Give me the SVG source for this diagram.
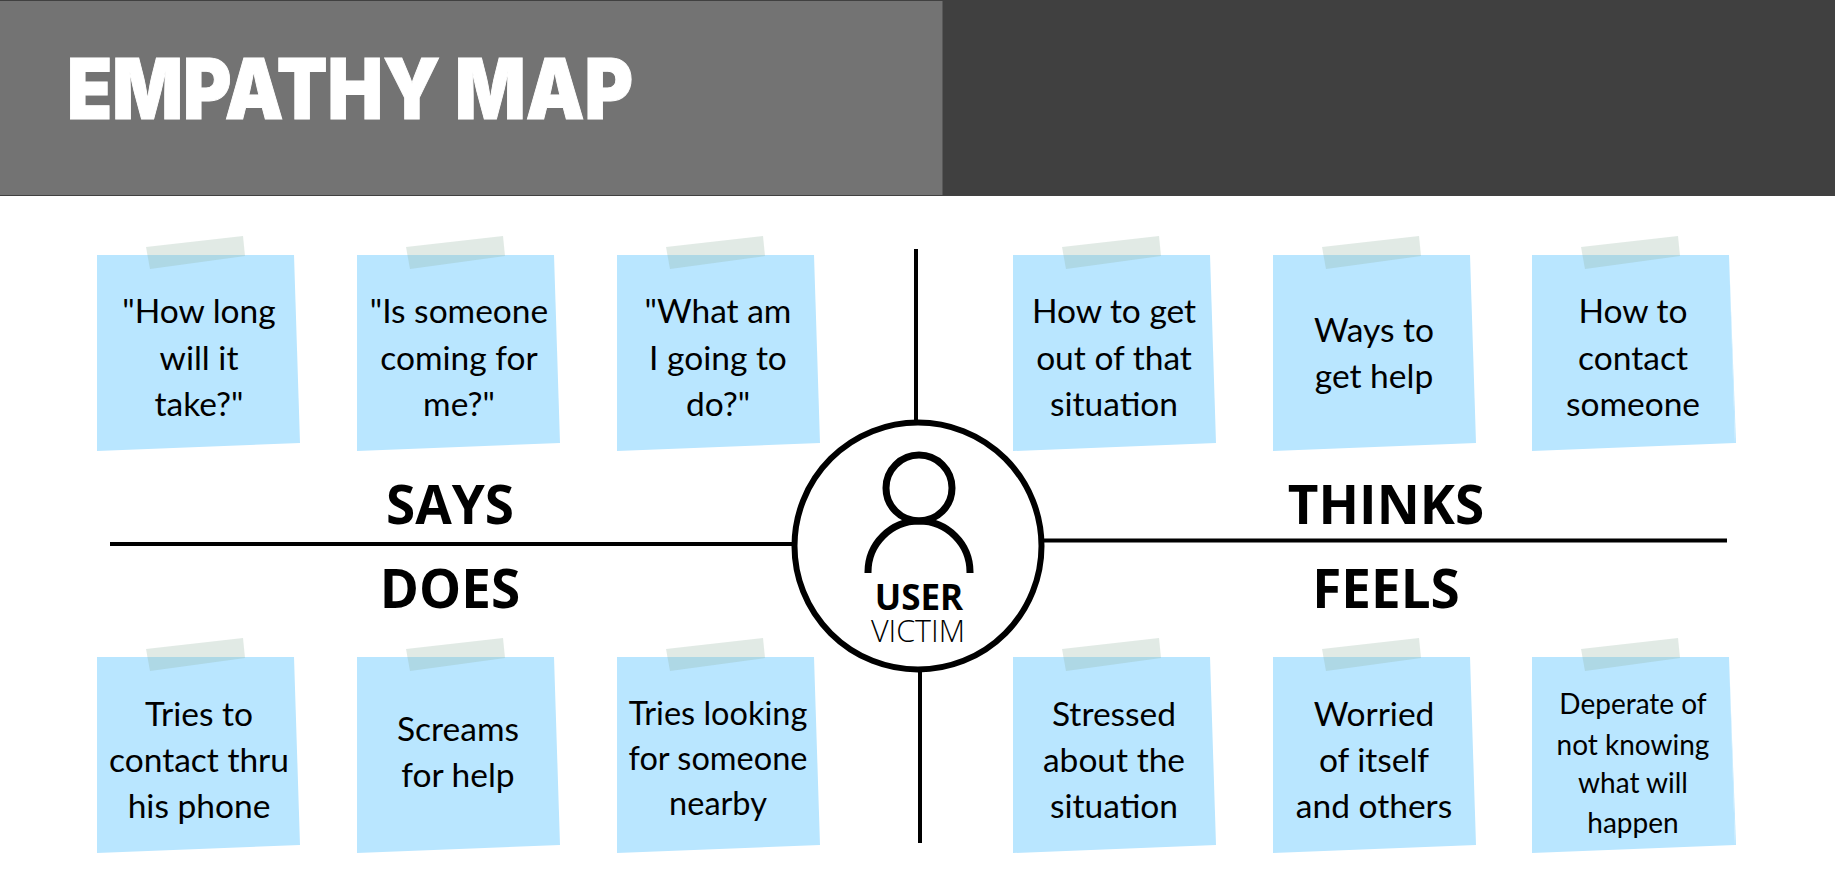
<svg xmlns="http://www.w3.org/2000/svg" width="1835" height="875" viewBox="0 0 1835 875">
<style>
.n{font-family:Lato,"Open Sans",sans-serif;font-size:33.500px;fill:#000;text-anchor:middle}
.m{font-size:32.500px}
.s{font-size:28px}
.h{font-family:"Open Sans",sans-serif;font-weight:700;font-size:53px;fill:#000;text-anchor:middle}
.l{stroke:#000;stroke-width:4;fill:none}
</style>
<defs>
<g id="note">
<path d="M0 0H197L203 188L0 196Z" fill="#b9e6ff"/>
<path d="M49 -8L146 -19L148 1L53 14Z" fill="#8fb0a0" fill-opacity=".27"/>
</g>
</defs>
<rect width="1835" height="196" fill="#404040"/>
<rect x="0" y="1" width="942.500" height="194" fill="#737373"/>
<text id="title" x="67" y="119" textLength="566" lengthAdjust="spacingAndGlyphs" font-family="Inter,sans-serif" font-weight="900" font-size="84" fill="#fff" stroke="#fff" stroke-width="1">EMPATHY MAP</text>
<g id="connectors">
<line class="l" x1="916" y1="249" x2="916" y2="422"/>
<line class="l" x1="110" y1="544" x2="795" y2="544"/>
<line class="l" x1="1043" y1="540.500" x2="1727" y2="540.500"/>
<line class="l" x1="920" y1="670" x2="920" y2="843"/>
</g>
<g id="says-notes">
<g id="n1" transform="translate(97 255)"><use href="#note"/><text class="n" x="102" y="68">"How long</text><text class="n" x="102" y="115">will it</text><text class="n" x="102" y="161">take?"</text></g>
<g id="n2" transform="translate(357 255)"><use href="#note"/><text class="n" x="102" y="68">"Is someone</text><text class="n" x="102" y="115">coming for</text><text class="n" x="102" y="161">me?"</text></g>
<g id="n3" transform="translate(617 255)"><use href="#note"/><text class="n" x="101" y="68">"What am</text><text class="n" x="101" y="115">I going to</text><text class="n" x="101" y="161">do?"</text></g>
</g>
<g id="thinks-notes">
<g id="n4" transform="translate(1013 255)"><use href="#note"/><text class="n" x="101" y="68">How to get</text><text class="n" x="101" y="115">out of that</text><text class="n" x="101" y="161">situation</text></g>
<g id="n5" transform="translate(1273 255)"><use href="#note"/><text class="n" x="101" y="87">Ways to</text><text class="n" x="101" y="133">get help</text></g>
<g id="n6" transform="translate(1532 255)"><use href="#note"/><path d="M197 0L204 188L203 188Z" fill="#b9e6ff"/><text class="n" x="101" y="68">How to</text><text class="n" x="101" y="115">contact</text><text class="n" x="101" y="161">someone</text></g>
</g>
<g id="does-notes">
<g id="n7" transform="translate(97 657)"><use href="#note"/><text class="n" x="102" y="69">Tries to</text><text class="n" x="102" y="115">contact thru</text><text class="n" x="102" y="161">his phone</text></g>
<g id="n8" transform="translate(357 657)"><use href="#note"/><text class="n" x="101" y="84">Screams</text><text class="n" x="101" y="130">for help</text></g>
<g id="n9" transform="translate(617 657)"><use href="#note"/><text class="n m" x="101" y="68">Tries looking</text><text class="n m" x="101" y="113">for someone</text><text class="n m" x="101" y="158">nearby</text></g>
</g>
<g id="feels-notes">
<g id="n10" transform="translate(1013 657)"><use href="#note"/><text class="n" x="101" y="69">Stressed</text><text class="n" x="101" y="115">about the</text><text class="n" x="101" y="161">situation</text></g>
<g id="n11" transform="translate(1273 657)"><use href="#note"/><text class="n" x="101" y="69">Worried</text><text class="n" x="101" y="115">of itself</text><text class="n" x="101" y="161">and others</text></g>
<g id="n12" transform="translate(1532 657)"><use href="#note"/><path d="M197 0L204 188L203 188Z" fill="#b9e6ff"/><text class="n s" x="101" y="57">Deperate of</text><text class="n s" x="101" y="98">not knowing</text><text class="n s" x="101" y="136">what will</text><text class="n s" x="101" y="176">happen</text></g>
</g>
<text class="h" x="450" y="524">SAYS</text>
<text class="h" x="1386" y="524">THINKS</text>
<text class="h" x="450" y="608">DOES</text>
<text class="h" x="1386" y="608">FEELS</text>
<g id="user">
<circle cx="918" cy="546" r="123.500" fill="#fff" stroke="#000" stroke-width="6"/>
<circle cx="919" cy="488" r="33" fill="none" stroke="#000" stroke-width="7"/>
<path d="M868 573V572A51 51 0 0 1 970 572V573" fill="none" stroke="#000" stroke-width="7"/>
<text x="919" y="610" text-anchor="middle" font-family="'Open Sans',sans-serif" font-weight="700" font-size="35">USER</text>
<text x="918" y="642" text-anchor="middle" font-family="'Open Sans',sans-serif" font-weight="300" font-size="30.500">VICTIM</text>
</g>
</svg>
